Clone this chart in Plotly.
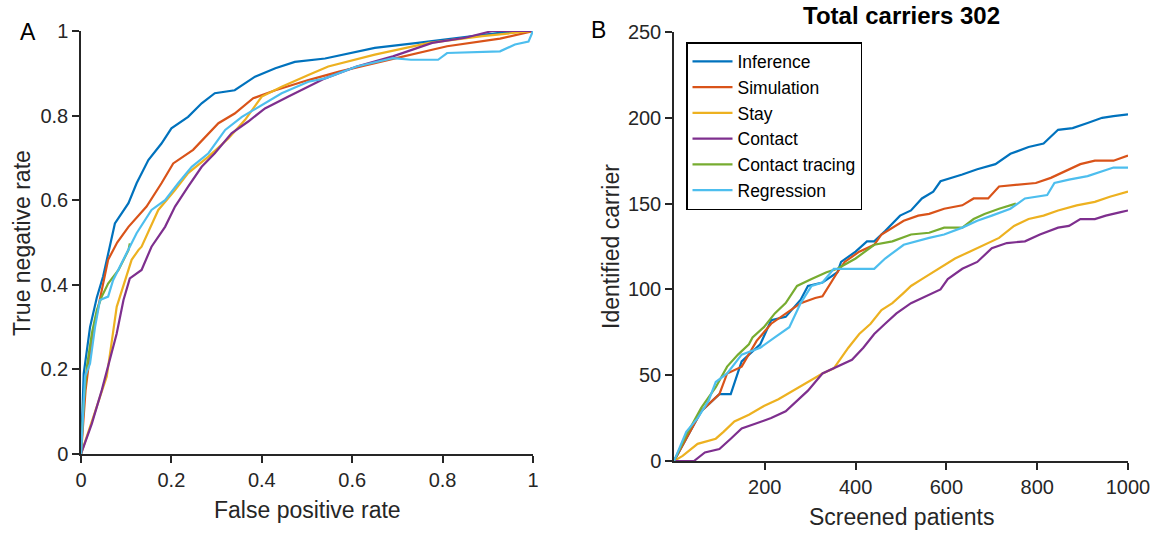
import plotly.graph_objects as go

# ---------------- Data ----------------
series_names = ["Inference", "Simulation", "Stay", "Contact", "Contact tracing", "Regression"]
colors = ["#0072BD", "#D95319", "#EDB120", "#7E2F8E", "#77AC30", "#4DBEEE"]

# Panel A: ROC-style curves (False positive rate vs True negative rate)
roc_inference_x = [0, 0.006, 0.02, 0.035, 0.049, 0.057, 0.075, 0.105, 0.123, 0.149, 0.178, 0.2, 0.237, 0.267, 0.296, 0.34, 0.385, 0.43, 0.473, 0.54, 0.6, 0.65, 0.745, 0.85, 0.93, 1.0]
roc_inference_y = [0, 0.19, 0.3, 0.37, 0.42, 0.46, 0.545, 0.593, 0.64, 0.695, 0.734, 0.77, 0.797, 0.829, 0.853, 0.86, 0.892, 0.912, 0.927, 0.935, 0.948, 0.96, 0.972, 0.986, 0.996, 1.0]

roc_simulation_x = [0, 0.01, 0.025, 0.04, 0.06, 0.08, 0.105, 0.145, 0.178, 0.204, 0.248, 0.304, 0.34, 0.381, 0.43, 0.503, 0.571, 0.65, 0.73, 0.81, 0.927, 1.0]
roc_simulation_y = [0, 0.15, 0.28, 0.36, 0.459, 0.5, 0.537, 0.585, 0.64, 0.687, 0.719, 0.782, 0.805, 0.841, 0.86, 0.884, 0.904, 0.924, 0.944, 0.964, 0.982, 1.0]

roc_stay_x = [0, 0.057, 0.079, 0.101, 0.112, 0.127, 0.134, 0.171, 0.208, 0.237, 0.282, 0.326, 0.363, 0.4, 0.444, 0.503, 0.547, 0.65, 0.77, 0.888, 1.0]
roc_stay_y = [0, 0.183, 0.348, 0.419, 0.459, 0.482, 0.49, 0.577, 0.624, 0.664, 0.703, 0.746, 0.79, 0.845, 0.868, 0.896, 0.916, 0.944, 0.972, 0.988, 1.0]

roc_contact_x = [0, 0.024, 0.046, 0.064, 0.079, 0.094, 0.108, 0.134, 0.156, 0.186, 0.208, 0.237, 0.267, 0.296, 0.333, 0.37, 0.407, 0.459, 0.503, 0.54, 0.61, 0.69, 0.777, 0.85, 0.91, 1.0]
roc_contact_y = [0, 0.072, 0.151, 0.222, 0.285, 0.364, 0.415, 0.435, 0.49, 0.537, 0.585, 0.632, 0.679, 0.711, 0.758, 0.786, 0.817, 0.845, 0.868, 0.888, 0.916, 0.94, 0.972, 0.984, 1.0, 1.0]

roc_tracing_x = [0, 0.006, 0.013, 0.024, 0.035, 0.046, 0.06, 0.083, 0.105, 0.108]
roc_tracing_y = [0, 0.12, 0.206, 0.285, 0.34, 0.372, 0.403, 0.435, 0.482, 0.498]

roc_regression_x = [0, 0.009, 0.02, 0.031, 0.042, 0.06, 0.071, 0.09, 0.123, 0.156, 0.186, 0.215, 0.245, 0.282, 0.319, 0.356, 0.4, 0.444, 0.503, 0.54, 0.61, 0.69, 0.73, 0.79, 0.81, 0.927, 0.96, 0.99, 1.0]
roc_regression_y = [0, 0.183, 0.214, 0.3, 0.364, 0.372, 0.411, 0.451, 0.522, 0.577, 0.6, 0.64, 0.679, 0.711, 0.766, 0.797, 0.825, 0.853, 0.88, 0.888, 0.916, 0.936, 0.932, 0.932, 0.948, 0.952, 0.968, 0.975, 1.0]

# Panel B: identified carriers vs screened patients
scr_inference_x = [0, 27, 60, 100, 125, 149, 190, 214, 246, 279, 295, 327, 360, 368, 400, 425, 441, 465, 498, 522, 546, 571, 587, 635, 668, 708, 741, 781, 814, 846, 878, 911, 943, 968, 1000]
scr_inference_y = [0, 13, 29, 39, 39, 58, 68, 82, 84, 94, 102, 104, 110, 116, 122, 128, 128, 134, 143, 146, 153, 157, 163, 167, 170, 173, 179, 183, 185, 193, 194, 197, 200, 201, 202]

scr_simulation_x = [0, 27, 60, 100, 117, 149, 182, 214, 246, 279, 311, 327, 360, 376, 408, 441, 457, 481, 506, 538, 562, 595, 635, 660, 692, 716, 765, 797, 830, 862, 895, 927, 968, 1000]
scr_simulation_y = [0, 13, 29, 39, 51, 55, 70, 80, 86, 92, 95, 96, 110, 116, 122, 126, 132, 136, 140, 143, 144, 147, 149, 153, 153, 160, 161, 162, 165, 169, 173, 175, 175, 178]

scr_stay_x = [0, 19, 52, 92, 109, 133, 165, 198, 230, 263, 295, 327, 352, 360, 384, 408, 433, 457, 481, 506, 522, 546, 571, 595, 619, 651, 684, 716, 749, 781, 814, 846, 887, 927, 960, 1000]
scr_stay_y = [0, 3, 10, 13, 17, 23, 27, 32, 36, 41, 46, 51, 54, 57, 66, 74, 80, 88, 92, 98, 102, 106, 110, 114, 118, 122, 126, 130, 137, 141, 143, 146, 149, 151, 154, 157]

scr_contact_x = [0, 44, 68, 100, 125, 149, 182, 214, 246, 271, 295, 327, 360, 392, 417, 441, 465, 490, 522, 554, 587, 603, 635, 668, 700, 733, 773, 806, 846, 870, 895, 927, 951, 984, 1000]
scr_contact_y = [0, 0, 5, 7, 13, 19, 22, 25, 29, 35, 41, 51, 55, 59, 66, 74, 80, 86, 92, 96, 100, 106, 112, 116, 124, 127, 128, 132, 136, 137, 141, 141, 143, 145, 146]

scr_tracing_x = [0, 27, 60, 92, 117, 141, 165, 173, 198, 222, 246, 271, 303, 336, 360, 400, 441, 481, 522, 562, 595, 635, 660, 684, 716, 753]
scr_tracing_y = [0, 15, 31, 43, 55, 62, 68, 72, 78, 86, 92, 102, 106, 110, 112, 118, 126, 128, 132, 133, 136, 136, 141, 144, 147, 150]

scr_regression_x = [0, 27, 52, 76, 92, 117, 149, 190, 222, 254, 279, 303, 327, 352, 384, 441, 465, 506, 562, 595, 635, 668, 700, 741, 773, 822, 838, 870, 911, 943, 968, 1000]
scr_regression_y = [0, 17, 25, 35, 46, 51, 62, 66, 72, 78, 92, 102, 104, 112, 112, 112, 118, 126, 130, 132, 136, 140, 143, 147, 153, 155, 162, 164, 166, 169, 171, 171]

roc_data = [(roc_inference_x, roc_inference_y), (roc_simulation_x, roc_simulation_y),
            (roc_stay_x, roc_stay_y), (roc_contact_x, roc_contact_y),
            (roc_tracing_x, roc_tracing_y), (roc_regression_x, roc_regression_y)]
scr_data = [(scr_inference_x, scr_inference_y), (scr_simulation_x, scr_simulation_y),
            (scr_stay_x, scr_stay_y), (scr_contact_x, scr_contact_y),
            (scr_tracing_x, scr_tracing_y), (scr_regression_x, scr_regression_y)]

# ---------------- Figure ----------------
W, H = 1157, 533
FONT = "Liberation Sans, Arial, Helvetica, sans-serif"
AX = "#262626"

fig = go.Figure()

for (x, y), name, c in zip(roc_data, series_names, colors):
    fig.add_trace(go.Scatter(x=x, y=y, mode="lines", name=name, showlegend=False,
                             line=dict(color=c, width=2.2), xaxis="x", yaxis="y"))
for (x, y), name, c in zip(scr_data, series_names, colors):
    fig.add_trace(go.Scatter(x=x, y=y, mode="lines", name=name, showlegend=True,
                             line=dict(color=c, width=2.2), xaxis="x2", yaxis="y2"))

def px_x(p):
    return p / W

def px_y(p):
    return 1 - p / H

axis_common = dict(showline=True, linecolor=AX, linewidth=1.5, ticks="outside",
                   ticklen=7, tickwidth=1.5, tickcolor=AX, showgrid=False,
                   zeroline=False, mirror=False, automargin=False,
                   tickfont=dict(family=FONT, size=20, color=AX))

fig.update_layout(
    width=W, height=H,
    margin=dict(l=0, r=0, t=0, b=0, autoexpand=False),
    paper_bgcolor="white", plot_bgcolor="white",
    font=dict(family=FONT, color=AX),
    xaxis=dict(domain=[px_x(81), px_x(533)], range=[0, 1], anchor="y",
               tickvals=[0, 0.2, 0.4, 0.6, 0.8, 1], ticktext=["0", "0.2", "0.4", "0.6", "0.8", "1"],
               **axis_common),
    yaxis=dict(domain=[px_y(454), px_y(31)], range=[0, 1], anchor="x",
               tickvals=[0, 0.2, 0.4, 0.6, 0.8, 1], ticktext=["0", "0.2", "0.4", "0.6", "0.8", "1"],
               **axis_common),
    xaxis2=dict(domain=[px_x(674), px_x(1128)], range=[0, 1000], anchor="y2",
                tickvals=[200, 400, 600, 800, 1000], ticktext=["200", "400", "600", "800", "1000"],
                **axis_common),
    yaxis2=dict(domain=[px_y(461), px_y(32)], range=[0, 250], anchor="x2",
                tickvals=[0, 50, 100, 150, 200, 250], ticktext=["0", "50", "100", "150", "200", "250"],
                **axis_common),
    legend=dict(x=px_x(686), y=px_y(42), xanchor="left", yanchor="top",
                bgcolor="white", bordercolor="#000000", borderwidth=1.5,
                font=dict(family=FONT, size=17.5, color="#000000"),
                tracegroupgap=0, itemwidth=40),
    showlegend=True,
)

TITLE_FONT = dict(family=FONT, size=23, color=AX)

def add_text(text, x, y, font, angle=0):
    fig.add_annotation(text=text, x=px_x(x), y=px_y(y), xref="paper", yref="paper",
                       xanchor="center", yanchor="middle", showarrow=False,
                       textangle=angle, font=font)

# Axis titles
add_text("False positive rate", 307, 510, TITLE_FONT)
add_text("True negative rate", 22, 243, TITLE_FONT, -90)
add_text("Screened patients", 901, 517, TITLE_FONT)
add_text("Identified carrier", 611, 247, TITLE_FONT, -90)
# Title and panel labels
add_text("<b>Total carriers 302</b>", 901, 15, dict(family=FONT, size=24, color="#000000"))
add_text("A", 28, 32, dict(family=FONT, size=23, color="#000000"))
add_text("B", 598, 30, dict(family=FONT, size=23, color="#000000"))

fig.write_html("out.html")
